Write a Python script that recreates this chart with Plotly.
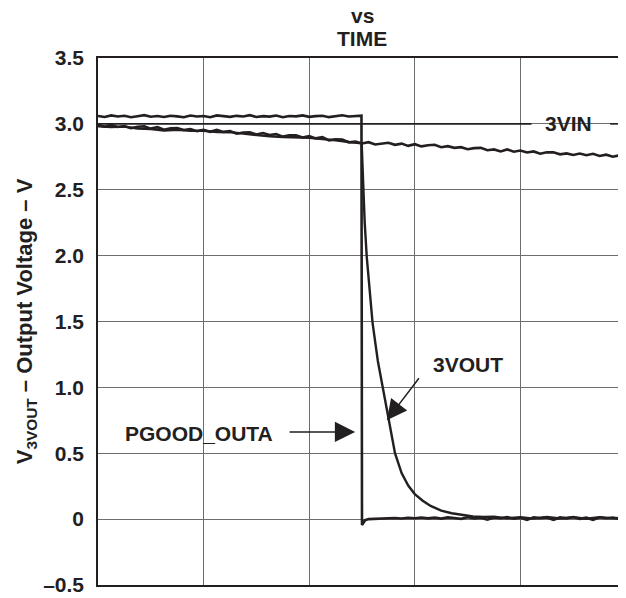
import plotly.graph_objects as go

# ---------------- data ----------------
Y_TICK_VALS = [-0.5, 0, 0.5, 1.0, 1.5, 2.0, 2.5, 3.0, 3.5]
Y_TICK_TEXT = ["\u20130.5", "0", "0.5", "1.0", "1.5", "2.0", "2.5", "3.0", "3.5"]
X_GRID_VALS = [0, 2, 4, 6, 8, 10]

# 3VIN trace (sample time, volts)
VIN_T = [0.0, 0.125, 0.25, 0.375, 0.5, 0.625, 0.75, 0.875,
         1.0, 1.125, 1.25, 1.375, 1.5, 1.625, 1.75, 1.875,
         2.0, 2.125, 2.25, 2.375, 2.5, 2.625, 2.75, 2.875,
         3.0, 3.125, 3.25, 3.375, 3.5, 3.625, 3.75, 3.875,
         4.0, 4.125, 4.25, 4.375, 4.5, 4.625, 4.75, 4.875,
         5.0, 5.125, 5.25, 5.375, 5.5, 5.625, 5.75, 5.875,
         6.0, 6.125, 6.25, 6.375, 6.5, 6.625, 6.75, 6.875,
         7.0, 7.125, 7.25, 7.375, 7.5, 7.625, 7.75, 7.875,
         8.0, 8.125, 8.25, 8.375, 8.5, 8.625, 8.75, 8.875,
         9.0, 9.125, 9.25, 9.375, 9.5, 9.625, 9.75, 9.875, 10.0]
VIN_V = [2.993, 2.978, 2.992, 2.976, 2.984, 2.967, 2.978, 2.982,
         2.964, 2.975, 2.955, 2.966, 2.969, 2.954, 2.961, 2.945,
         2.955, 2.940, 2.954, 2.939, 2.945, 2.925, 2.934, 2.936,
         2.920, 2.931, 2.916, 2.922, 2.903, 2.913, 2.914, 2.897,
         2.907, 2.890, 2.899, 2.875, 2.883, 2.881, 2.860, 2.865,
         2.851, 2.861, 2.844, 2.852, 2.857, 2.841, 2.850, 2.833,
         2.846, 2.829, 2.838, 2.841, 2.823, 2.831, 2.818, 2.823,
         2.808, 2.816, 2.818, 2.800, 2.806, 2.791, 2.806, 2.789,
         2.798, 2.783, 2.791, 2.774, 2.784, 2.785, 2.769, 2.776,
         2.764, 2.775, 2.762, 2.773, 2.756, 2.766, 2.751, 2.761, 2.757]

# PGOOD_OUTA trace
PG_T = [0.0, 0.125, 0.25, 0.375, 0.5, 0.625, 0.75, 0.875,
        1.0, 1.125, 1.25, 1.375, 1.5, 1.625, 1.75, 1.875,
        2.0, 2.125, 2.25, 2.375, 2.5, 2.625, 2.75, 2.875,
        3.0, 3.125, 3.25, 3.375, 3.5, 3.625, 3.75, 3.875,
        4.0, 4.125, 4.25, 4.375, 4.5, 4.625, 4.75, 4.875,
        4.99, 5.0, 5.02, 5.06,
        5.125, 5.25, 5.375, 5.5, 5.625, 5.75, 5.875,
        6.0, 6.125, 6.25, 6.375, 6.5, 6.625, 6.75, 6.875,
        7.0, 7.125, 7.25, 7.375, 7.5, 7.625, 7.75, 7.875,
        8.0, 8.125, 8.25, 8.375, 8.5, 8.625, 8.75, 8.875,
        9.0, 9.125, 9.25, 9.375, 9.5, 9.625, 9.75, 9.875, 10.0]
PG_V = [3.060, 3.052, 3.064, 3.056, 3.062, 3.050, 3.058, 3.066,
        3.054, 3.060, 3.052, 3.062, 3.057, 3.050, 3.063, 3.056,
        3.060, 3.051, 3.064, 3.058, 3.053, 3.061, 3.056, 3.066,
        3.052, 3.059, 3.055, 3.063, 3.050, 3.060, 3.057, 3.064,
        3.053, 3.059, 3.062, 3.051, 3.058, 3.065, 3.056, 3.060,
        3.062, -0.045, -0.030, -0.008,
        0.000, 0.003, 0.006, 0.004, 0.008, 0.005, 0.010,
        0.007, 0.012, 0.006, 0.011, 0.004, 0.013, 0.008, 0.002,
        0.014, 0.006, 0.011, -0.004, 0.013, 0.007, 0.015, 0.003,
        0.010, -0.006, 0.014, 0.008, 0.012, -0.005, 0.013, 0.006,
        0.016, 0.002, 0.011, -0.006, 0.014, 0.007, 0.012, 0.001, 0.010]

# 3VOUT trace: follows 3VIN, then decays after the switch-off
VOUT_T = [0.0, 0.25, 0.5, 0.75, 1.0, 1.25, 1.5, 1.75, 2.0, 2.25,
          2.5, 2.75, 3.0, 3.25, 3.5, 3.75, 4.0, 4.25, 4.5, 4.75,
          4.994, 5.01, 5.025, 5.05, 5.09, 5.14, 5.2, 5.3, 5.4, 5.5,
          5.625, 5.75, 5.875, 6.0, 6.15, 6.3, 6.5, 6.7, 6.9, 7.1,
          7.3, 7.5, 7.75, 8.0, 8.25, 8.5, 8.75, 9.0, 9.25, 9.5, 9.75, 10.0]
VOUT_V = [2.982, 2.975, 2.979, 2.965, 2.961, 2.950, 2.955, 2.947, 2.947, 2.938,
          2.937, 2.925, 2.915, 2.905, 2.900, 2.898, 2.895, 2.884, 2.876, 2.862,
          2.853, 2.68, 2.49, 2.26, 1.99, 1.74, 1.49, 1.20, 0.986, 0.75,
          0.50, 0.35, 0.255, 0.19, 0.14, 0.10, 0.065, 0.045, 0.030, 0.020,
          0.016, 0.018, 0.006, 0.015, 0.004, 0.016, 0.005, 0.014, 0.003, 0.015, 0.006, 0.012]

# 3VIN label leader line (broken around the label)
LEADER_T = [0.0, 8.21, None, 9.70, 10.0]
LEADER_V = [3.0, 3.0, None, 3.0, 3.0]

INK = "#231f20"
GRID = "#6d6d6d"
FONT = "Liberation Sans"

fig = go.Figure()
fig.add_trace(go.Scatter(x=LEADER_T, y=LEADER_V, mode="lines",
                         line=dict(color=INK, width=1.6), hoverinfo="skip"))
fig.add_trace(go.Scatter(x=VIN_T, y=VIN_V, mode="lines", name="3VIN",
                         line=dict(color=INK, width=2.6)))
fig.add_trace(go.Scatter(x=PG_T, y=PG_V, mode="lines", name="PGOOD_OUTA",
                         line=dict(color=INK, width=2.6)))
fig.add_trace(go.Scatter(x=VOUT_T, y=VOUT_V, mode="lines", name="3VOUT",
                         line=dict(color=INK, width=2.4)))

bold = dict(family=FONT, size=21, color=INK, weight="bold")

annotations = [
    dict(text="vs", xref="paper", yref="paper", x=0.5, y=1,
         xanchor="center", yanchor="bottom", yshift=29, showarrow=False, font=bold),
    dict(text="TIME", xref="paper", yref="paper", x=0.5, y=1,
         xanchor="center", yanchor="bottom", yshift=6, showarrow=False, font=bold),
    dict(text="3VIN", x=8.91, y=3.0, xref="x", yref="y", showarrow=False, font=bold),
    dict(text="3VOUT", x=7.01, y=1.17, xref="x", yref="y", showarrow=False, font=bold),
    dict(text="PGOOD_OUTA", x=1.91, y=0.652, xref="x", yref="y", showarrow=False, font=bold),
    dict(text="", x=5.47, y=0.75, ax=6.1, ay=1.08, xref="x", yref="y", axref="x", ayref="y",
         showarrow=True, arrowhead=2, arrowsize=2.7, arrowwidth=1.5, arrowcolor=INK),
    dict(text="", x=4.87, y=0.662, ax=3.6, ay=0.662, xref="x", yref="y", axref="x", ayref="y",
         showarrow=True, arrowhead=2, arrowsize=2.7, arrowwidth=1.5, arrowcolor=INK),
]

# the page body adds an 8 px offset, so the figure is 8 px smaller on each axis
fig.update_layout(
    width=618, height=590,
    margin=dict(l=90, r=0, t=50, b=13, autoexpand=False),
    paper_bgcolor="white", plot_bgcolor="white",
    showlegend=False,
    font=dict(family=FONT, color=INK),
    annotations=annotations,
)
fig.update_xaxes(range=[0, 10], tickvals=X_GRID_VALS, showticklabels=False,
                 showgrid=True, gridcolor=GRID, gridwidth=1, zeroline=False,
                 showline=True, linecolor=INK, linewidth=1.5, mirror=True, ticks="",
                 automargin=False)
fig.update_yaxes(range=[-0.5, 3.5], tickvals=Y_TICK_VALS, ticktext=Y_TICK_TEXT,
                 showgrid=True, gridcolor=GRID, gridwidth=1, zeroline=False,
                 showline=True, linecolor=INK, linewidth=1.5, mirror=True, ticks="",
                 ticklabelstandoff=8, automargin=False,
                 tickfont=dict(family=FONT, size=21, color=INK, weight="bold"),
                 title=dict(text="V<sub>3VOUT</sub> \u2013 Output Voltage \u2013 V",
                            font=dict(family=FONT, size=22, color=INK, weight="bold"),
                            standoff=4))

fig.write_html("out.html")
